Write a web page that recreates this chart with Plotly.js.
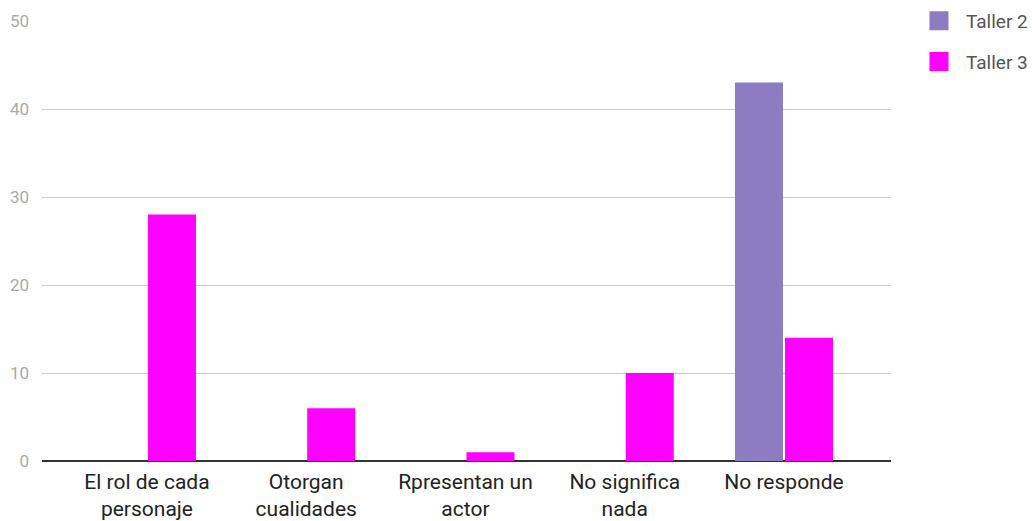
<!DOCTYPE html>
<html>
<head>
<meta charset="utf-8">
<script src="https://cdn.plot.ly/plotly-3.0.1.min.js"></script>
<style>html,body{margin:0;padding:0;background:#fff;}#chart{width:1032px;height:521px;}</style>
</head>
<body>
<div id="chart"></div>
<script>
const categories = ["El rol de cada<br>personaje", "Otorgan<br>cualidades", "Rpresentan un<br>actor", "No significa<br>nada", "No responde"];
const taller2 = [0, 0, 0, 0, 43];
const taller3 = [28, 6, 1, 10, 14];
const seriesNames = ["Taller 2", "Taller 3"];
const seriesColors = ["#8e7cc3", "#ff00ff"];
const yTicks = [0, 10, 20, 30, 40, 50];

const idx = categories.map((_, i) => i);

const traces = [
  {type: "bar", name: seriesNames[0], x: idx, y: taller2, marker: {color: seriesColors[0]}, showlegend: false},
  {type: "bar", name: seriesNames[1], x: idx, y: taller3, marker: {color: seriesColors[1]}, showlegend: false},
  // legend entries (no data, only the legend swatch)
  {type: "scatter", mode: "markers", name: seriesNames[0], x: [null], y: [null], legendgroup: "a",
   marker: {symbol: "square", size: 16, color: seriesColors[0], line: {width: 3, color: seriesColors[0]}}},
  {type: "scatter", mode: "markers", name: seriesNames[1], x: [null], y: [null], legendgroup: "b",
   marker: {symbol: "square", size: 16, color: seriesColors[1], line: {width: 3, color: seriesColors[1]}}}
];

const layout = {
  width: 1032, height: 521,
  margin: {l: 42, r: 141, t: 0, b: 60, pad: 0, autoexpand: false},
  paper_bgcolor: "#fff", plot_bgcolor: "#fff",
  font: {family: "Roboto, Arial, sans-serif"},
  barmode: "group",
  bargap: 0.372,
  bargroupgap: 0.04,
  showlegend: true,
  legend: {x: 1.0247, xanchor: "left", y: 0.9957, yanchor: "top", font: {size: 19, color: "#555"},
           tracegroupgap: 13, traceorder: "grouped", itemwidth: 44, itemclick: false},
  xaxis: {
    range: [-0.659, 4.672], tickmode: "array", tickvals: idx, ticktext: categories,
    showgrid: false, zeroline: false, showline: false, ticks: "", ticklabelstandoff: 6,
    tickfont: {size: 21, color: "#222"}, fixedrange: true, automargin: false
  },
  yaxis: {
    range: [0, 50], domain: [0, 440/461], tickmode: "array", tickvals: yTicks, ticktext: yTicks.map(String),
    showgrid: true, gridcolor: "#cccccc", gridwidth: 1,
    zeroline: true, zerolinecolor: "#333", zerolinewidth: 1.5,
    showline: false, ticks: "", ticklabelstandoff: 12,
    tickfont: {size: 17, color: "#aaa"}, fixedrange: true, automargin: false
  }
};

Plotly.newPlot("chart", traces, layout, {displayModeBar: false, staticPlot: true});
</script>
</body>
</html>
